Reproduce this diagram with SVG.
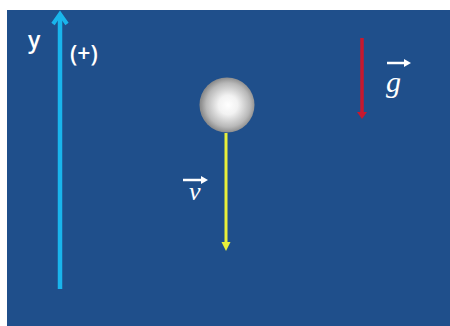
<svg xmlns="http://www.w3.org/2000/svg" width="450" height="326" viewBox="0 0 450 326">
  <defs>
    <radialGradient id="ballGrad" cx="0.52" cy="0.5" r="0.5">
      <stop offset="0" stop-color="#ffffff"/>
      <stop offset="0.35" stop-color="#f2f2f2"/>
      <stop offset="0.8" stop-color="#b8b8b8"/>
      <stop offset="1" stop-color="#8c8c8c"/>
    </radialGradient>
  </defs>
  <style>
    .lbl { fill: #ffffff; font-family: "Open Sans", "Liberation Sans", Arial, sans-serif; font-weight: 600; }
    .sym { fill: #ffffff; font-family: "Liberation Serif", "Times New Roman", serif; font-style: italic; }
    .vec { stroke: #ffffff; stroke-width: 2.5; fill: none; }
    .vech { fill: #ffffff; }
  </style>
  <rect x="0" y="0" width="450" height="326" fill="#ffffff"/>
  <rect x="7" y="10" width="443" height="316" fill="#1f4f8b"/>

  <g id="connectors">
    <g id="y-axis">
      <line x1="60" y1="289" x2="60" y2="16" stroke="#19b5ec" stroke-width="4.5"/>
      <polyline points="53,24 60,14 67,24" fill="none" stroke="#19b5ec" stroke-width="4" stroke-linejoin="miter"/>
    </g>
    <g id="velocity">
      <line x1="226" y1="133" x2="226" y2="244" stroke="#e8f03a" stroke-width="3"/>
      <polygon points="221.5,242 230.5,242 226,251" fill="#e8f03a"/>
    </g>
    <g id="gravity">
      <line x1="362" y1="38" x2="362" y2="113" stroke="#c8182e" stroke-width="3.5"/>
      <polygon points="357,112 367,112 362,119" fill="#c8182e"/>
    </g>
  </g>

  <g id="ball">
    <circle cx="227" cy="105" r="27.5" fill="url(#ballGrad)"/>
  </g>

  <g id="label-y">
    <text class="lbl" x="28" y="48" font-size="23">y</text>
  </g>
  <g id="label-plus">
    <text class="lbl" x="70" y="62" font-size="23">(+)</text>
  </g>

  <g id="label-v">
    <line class="vec" x1="183" y1="180" x2="202" y2="180"/>
    <polygon class="vech" points="201,176 208,180 201,184"/>
    <text class="sym" x="189" y="200" font-size="26">v</text>
  </g>

  <g id="label-g">
    <line class="vec" x1="387" y1="63" x2="405" y2="63"/>
    <polygon class="vech" points="404,59 411,63 404,67"/>
    <text class="sym" x="386" y="92" font-size="30">g</text>
  </g>
</svg>
